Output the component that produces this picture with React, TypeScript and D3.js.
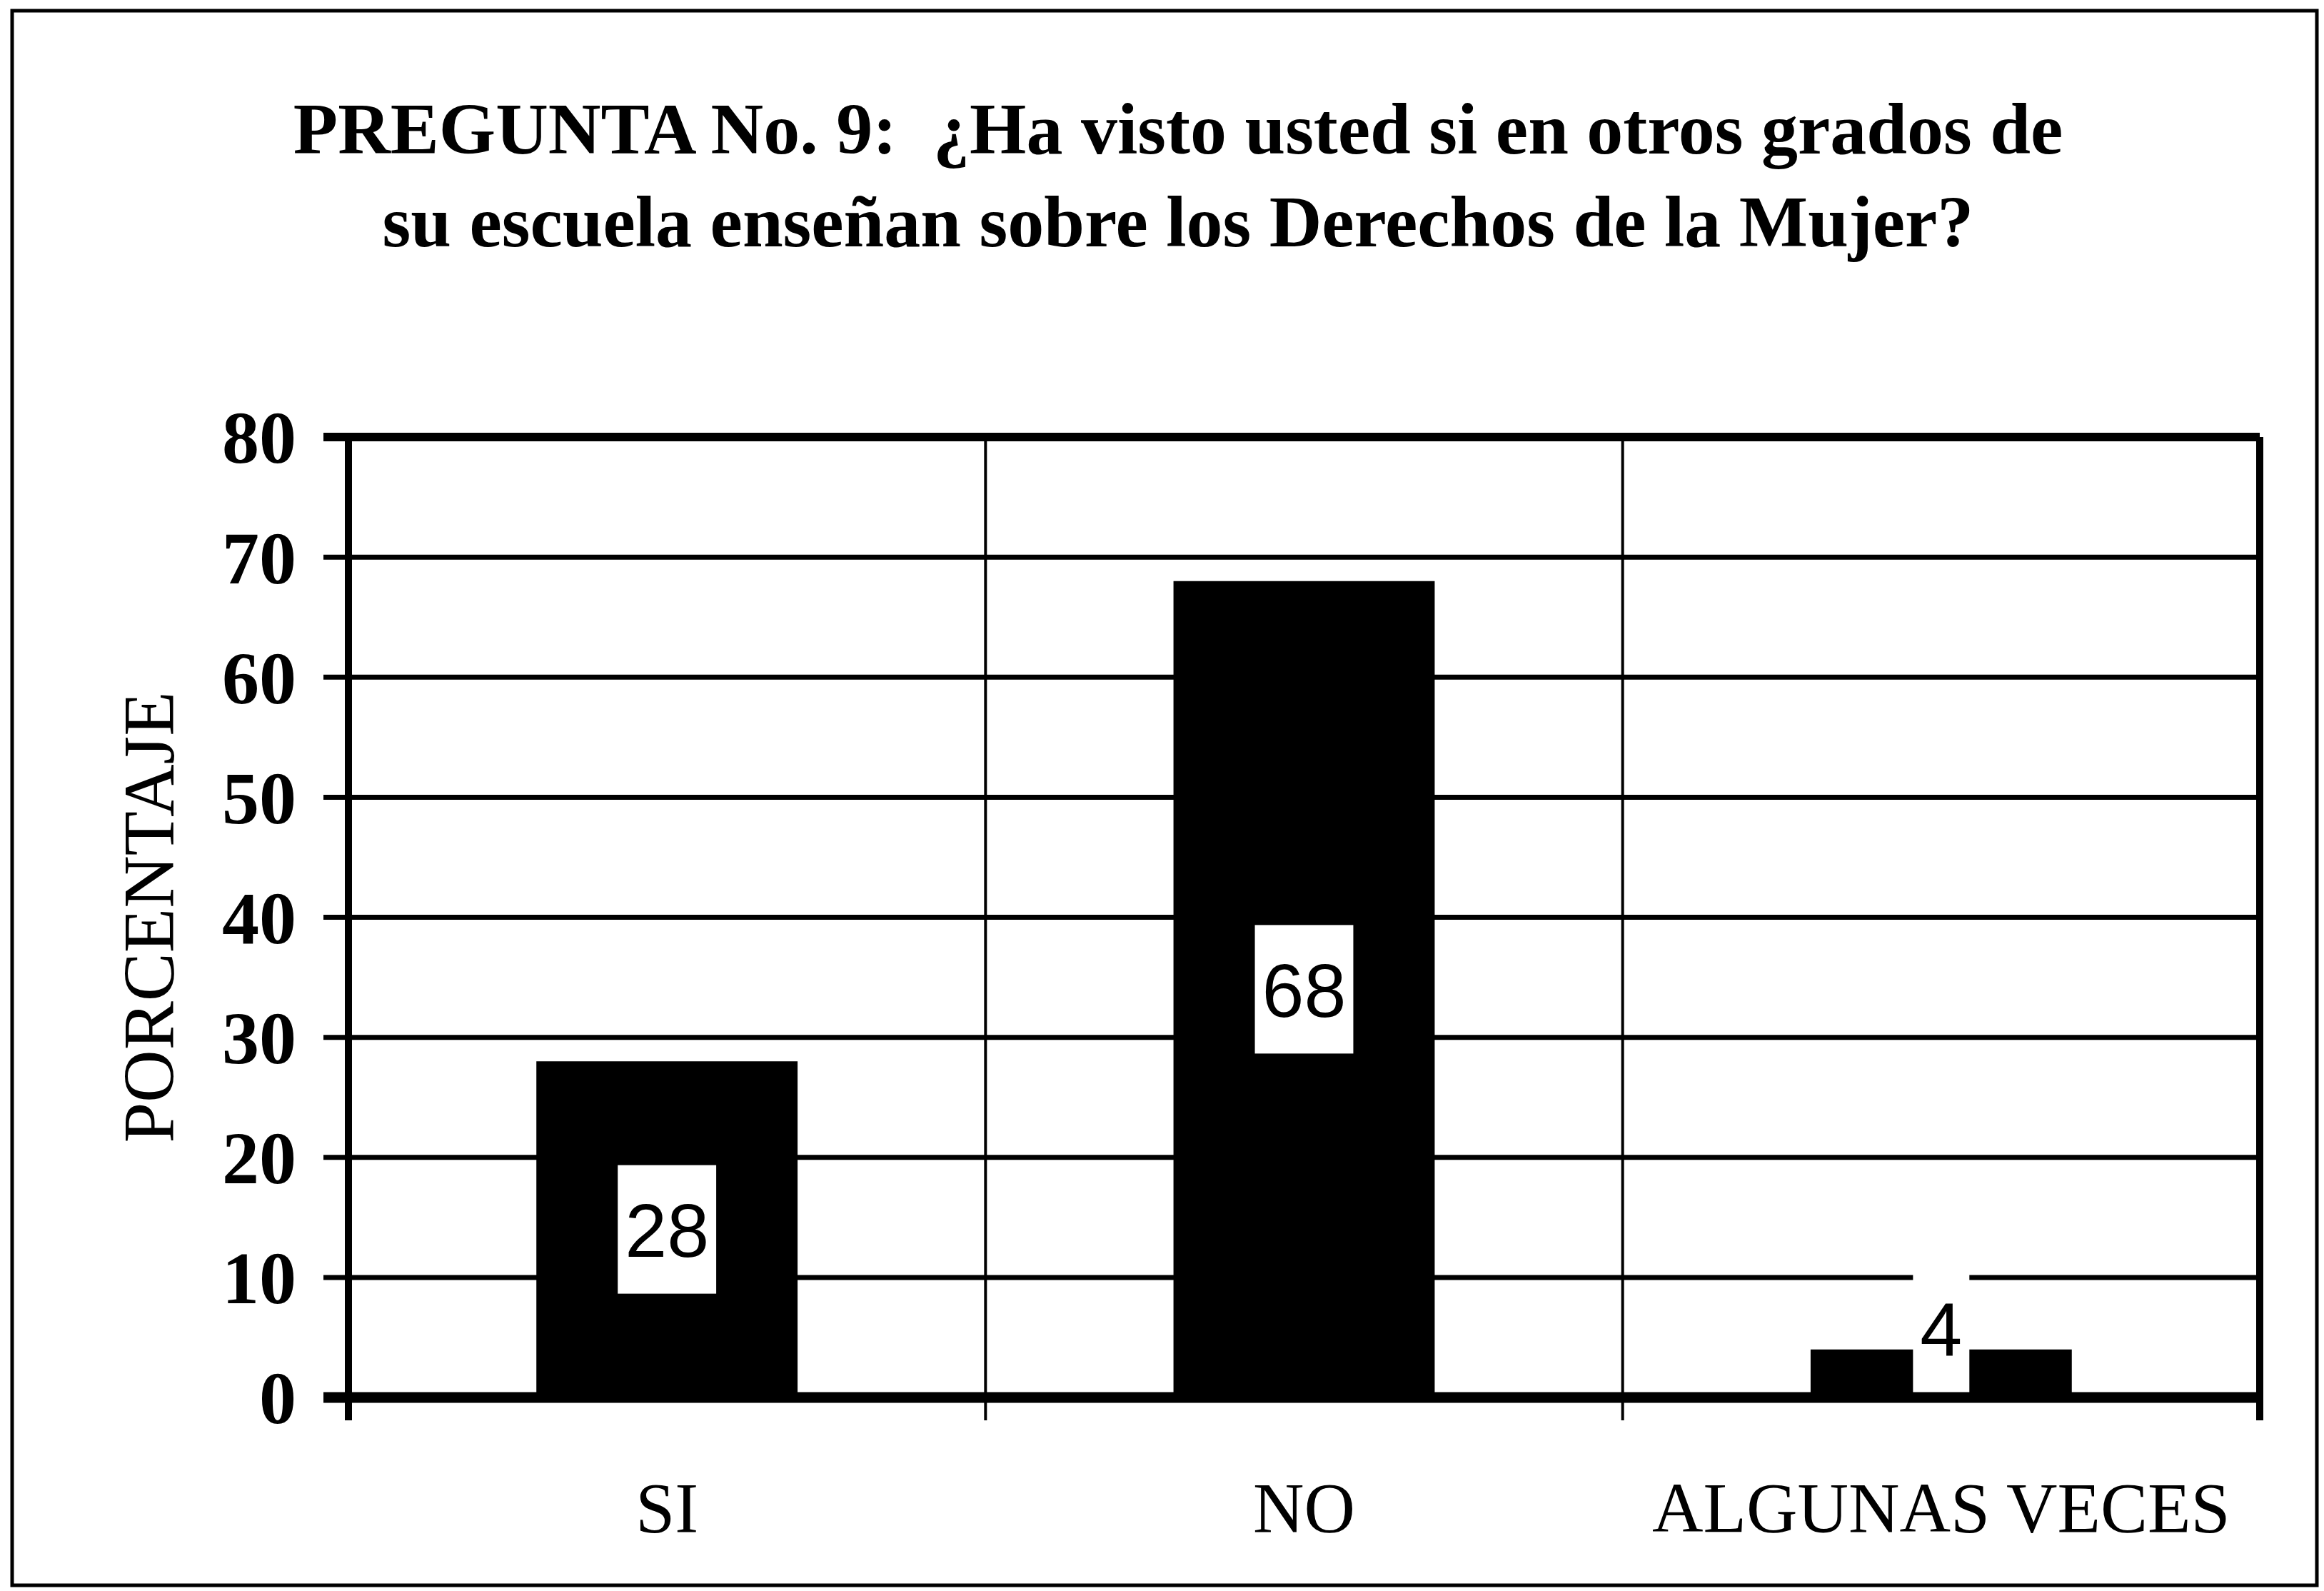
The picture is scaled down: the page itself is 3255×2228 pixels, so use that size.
import React from "react";
import * as d3 from "d3";

const categories = ["SI", "NO", "ALGUNAS VECES"];
const values = [28, 68, 4];
const yTicks = [0, 10, 20, 30, 40, 50, 60, 70, 80];
const titleLines = [
  "PREGUNTA No. 9:  ¿Ha visto usted si en otros grados de",
  "su escuela enseñan sobre los Derechos de la Mujer?",
];
const yAxisTitle = "PORCENTAJE";

const W = 3255;
const H = 2228;
const plot = { left: 488, right: 3165, top: 612, bottom: 1957 };
const serif = "'Liberation Serif', 'Times New Roman', serif";
const sans = "'Liberation Sans', Arial, sans-serif";

export default function App() {
  const x = d3
    .scaleBand<string>()
    .domain(categories)
    .range([plot.left, plot.right])
    .paddingInner(0.59)
    .paddingOuter(0.295);
  const y = d3.scaleLinear().domain([0, 80]).range([plot.bottom, plot.top]);
  const step = x.step();
  const boundaries = d3.range(categories.length + 1).map((i) => plot.left + i * step);
  const labelFont = 106;
  const boxH = 180;

  return (
    <svg
      width={W}
      height={H}
      viewBox={`0 0 ${W} ${H}`}
      style={{ position: "absolute", left: 0, top: 0, display: "block", background: "#fff" }}
    >
      <rect x={0} y={0} width={W} height={H} fill="#fff" />
      {/* outer border */}
      <rect x={17} y={15} width={3228} height={2205} fill="none" stroke="#000" strokeWidth={5} />

      {/* title */}
      {titleLines.map((t, i) => (
        <text
          key={i}
          x={1650}
          y={215 + i * 130}
          textAnchor="middle"
          fontFamily={serif}
          fontWeight="bold"
          fontSize={102}
          style={{ whiteSpace: "pre" }}
          xmlSpace="preserve"
        >
          {t}
        </text>
      ))}

      {/* horizontal gridlines */}
      {yTicks.map((t) => (
        <line
          key={"g" + t}
          x1={plot.left - 35}
          x2={plot.right}
          y1={y(t)}
          y2={y(t)}
          stroke="#000"
          strokeWidth={t === 80 ? 12 : 7}
        />
      ))}

      {/* vertical category dividers */}
      {boundaries.map((bx, i) => (
        <line
          key={"v" + i}
          x1={bx}
          x2={bx}
          y1={plot.top}
          y2={plot.bottom + 32}
          stroke="#000"
          strokeWidth={i === 0 || i === boundaries.length - 1 ? 10 : 4}
        />
      ))}

      {/* bars */}
      {categories.map((c, i) => (
        <rect
          key={"b" + c}
          x={x(c)}
          y={y(values[i])}
          width={x.bandwidth()}
          height={plot.bottom - y(values[i])}
          fill="#000"
        />
      ))}

      {/* data labels */}
      {categories.map((c, i) => {
        const txt = String(values[i]);
        const bw = txt.length * 0.556 * labelFont + 20;
        const cx = (x(c) as number) + x.bandwidth() / 2;
        const mid = (y(values[i]) + plot.bottom) / 2;
        const cy = Math.min(mid, plot.bottom - boxH / 2 - 6);
        return (
          <g key={"l" + c}>
            <rect x={cx - bw / 2} y={cy - boxH / 2} width={bw} height={boxH} fill="#fff" />
            <text
              x={cx}
              y={cy}
              dy="0.36em"
              textAnchor="middle"
              fontFamily={sans}
              fontSize={labelFont}
              fill="#000"
            >
              {txt}
            </text>
          </g>
        );
      })}

      {/* baseline axis */}
      <line x1={plot.left - 35} x2={plot.right} y1={plot.bottom} y2={plot.bottom} stroke="#000" strokeWidth={15} />

      {/* y tick labels */}
      {yTicks.map((t) => (
        <text
          key={"t" + t}
          x={415}
          y={y(t)}
          dy="0.35em"
          textAnchor="end"
          fontFamily={serif}
          fontWeight="bold"
          fontSize={104}
        >
          {t}
        </text>
      ))}

      {/* y axis title */}
      <text
        transform={`translate(243, ${(plot.top + plot.bottom) / 2}) rotate(-90)`}
        textAnchor="middle"
        fontFamily={serif}
        fontSize={102}
      >
        {yAxisTitle}
      </text>

      {/* x labels */}
      {categories.map((c) => (
        <text
          key={"x" + c}
          x={(x(c) as number) + x.bandwidth() / 2}
          y={2145}
          textAnchor="middle"
          fontFamily={serif}
          fontSize={99}
        >
          {c}
        </text>
      ))}
    </svg>
  );
}
